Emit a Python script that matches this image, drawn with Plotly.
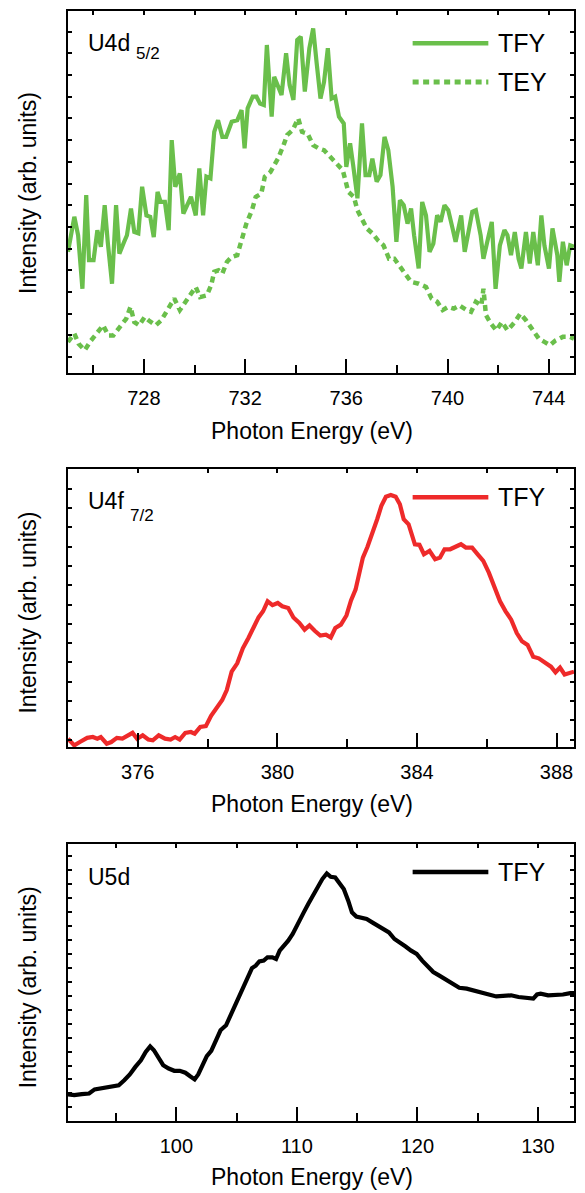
import plotly.graph_objects as go

# ---------------- data: U4d5/2 edge ----------------
u4d_tfy_energy = [725.00, 725.25, 725.40, 725.57, 725.72, 725.83, 726.01, 726.16, 726.30, 726.45,
                  726.57, 726.74, 726.90, 727.03, 727.22, 727.33, 727.49, 727.62, 727.78, 727.93,
                  728.10, 728.25, 728.39, 728.54, 728.66, 728.83, 728.98, 729.10, 729.24, 729.42,
                  729.56, 729.71, 729.86, 730.05, 730.19, 730.34, 730.47, 730.63, 730.78, 730.93,
                  731.10, 731.25, 731.47, 731.69, 731.86, 731.98, 732.10, 732.30, 732.45, 732.59,
                  732.74, 732.86, 733.05, 733.15, 733.30, 733.44, 733.62, 733.76, 733.91, 734.06,
                  734.20, 734.36, 734.54, 734.69, 734.83, 734.98, 735.12, 735.27, 735.42, 735.56,
                  735.71, 735.90, 736.00, 736.15, 736.27, 736.44, 736.62, 736.76, 736.91, 737.03,
                  737.20, 737.35, 737.51, 737.66, 737.83, 737.98, 738.12, 738.27, 738.42, 738.56,
                  738.68, 738.86, 739.00, 739.15, 739.29, 739.44, 739.59, 739.73, 739.88, 740.03,
                  740.20, 740.32, 740.54, 740.68, 740.83, 740.98, 741.12, 741.31, 741.42, 741.56,
                  741.75, 741.90, 742.07, 742.25, 742.37, 742.51, 742.66, 742.81, 742.92, 743.10,
                  743.25, 743.39, 743.57, 743.71, 743.83, 744.01, 744.15, 744.34, 744.42, 744.56,
                  744.71, 744.85, 745.00]
u4d_tfy_intensity = [0.334, 0.431, 0.380, 0.232, 0.491, 0.311, 0.311, 0.394, 0.348, 0.463,
                     0.362, 0.246, 0.463, 0.329, 0.362, 0.380, 0.454, 0.389, 0.385, 0.514,
                     0.435, 0.431, 0.375, 0.500, 0.472, 0.472, 0.394, 0.643, 0.514, 0.551,
                     0.440, 0.463, 0.486, 0.435, 0.565, 0.435, 0.542, 0.537, 0.666, 0.698,
                     0.652, 0.652, 0.694, 0.698, 0.726, 0.620, 0.731, 0.763, 0.763, 0.744,
                     0.740, 0.906, 0.708, 0.818, 0.795, 0.768, 0.883, 0.795, 0.754, 0.920,
                     0.929, 0.777, 0.897, 0.952, 0.855, 0.758, 0.804, 0.897, 0.758, 0.763,
                     0.708, 0.689, 0.569, 0.634, 0.574, 0.482, 0.689, 0.546, 0.546, 0.592,
                     0.528, 0.546, 0.652, 0.615, 0.514, 0.362, 0.477, 0.463, 0.412, 0.454,
                     0.380, 0.288, 0.472, 0.435, 0.334, 0.357, 0.435, 0.417, 0.463, 0.449,
                     0.399, 0.362, 0.435, 0.334, 0.389, 0.445, 0.449, 0.380, 0.315, 0.362,
                     0.417, 0.232, 0.352, 0.394, 0.380, 0.325, 0.389, 0.315, 0.288, 0.389,
                     0.302, 0.389, 0.297, 0.435, 0.352, 0.288, 0.399, 0.325, 0.251, 0.362,
                     0.297, 0.352, 0.348]

u4d_tey_energy = [725.00, 725.25, 725.42, 725.66, 725.91, 726.16, 726.39, 726.59, 726.79, 727.00,
                  727.30, 727.47, 727.62, 727.81, 728.03, 728.18, 728.47, 728.69, 728.91, 729.20,
                  729.42, 729.64, 729.86, 730.05, 730.22, 730.49, 730.66, 730.78, 730.95, 731.10,
                  731.28, 731.47, 731.69, 731.91, 732.05, 732.27, 732.42, 732.64, 732.78, 733.00,
                  733.30, 733.52, 733.66, 733.88, 734.10, 734.25, 734.47, 734.69, 734.91, 735.12,
                  735.42, 735.64, 735.86, 736.08, 736.30, 736.44, 736.59, 736.81, 737.03, 737.25,
                  737.47, 737.69, 737.90, 738.12, 738.34, 738.56, 738.86, 739.15, 739.37, 739.59,
                  739.81, 740.03, 740.25, 740.47, 740.76, 740.93, 741.12, 741.34, 741.42, 741.52,
                  741.71, 741.93, 742.15, 742.37, 742.66, 742.88, 743.10, 743.39, 743.61, 743.83,
                  744.05, 744.27, 744.56, 744.85, 745.00]
u4d_tey_intensity = [0.085, 0.108, 0.080, 0.062, 0.089, 0.113, 0.131, 0.103, 0.103, 0.122,
                     0.149, 0.182, 0.140, 0.131, 0.154, 0.145, 0.131, 0.145, 0.173, 0.205,
                     0.173, 0.196, 0.214, 0.237, 0.209, 0.214, 0.242, 0.279, 0.283, 0.274,
                     0.306, 0.320, 0.325, 0.380, 0.412, 0.449, 0.486, 0.495, 0.542, 0.555,
                     0.592, 0.629, 0.657, 0.671, 0.703, 0.666, 0.661, 0.629, 0.620, 0.615,
                     0.592, 0.574, 0.560, 0.500, 0.486, 0.449, 0.431, 0.399, 0.385, 0.366,
                     0.352, 0.315, 0.315, 0.292, 0.274, 0.251, 0.246, 0.237, 0.205, 0.196,
                     0.173, 0.182, 0.177, 0.186, 0.173, 0.168, 0.196, 0.186, 0.232, 0.159,
                     0.136, 0.117, 0.140, 0.117, 0.140, 0.163, 0.145, 0.117, 0.094, 0.085,
                     0.076, 0.089, 0.099, 0.099, 0.094]

# ---------------- data: U4f7/2 edge ----------------
u4f_energy = [374.00, 374.18, 374.34, 374.55, 374.71, 374.84, 374.94, 375.11, 375.24, 375.40,
              375.56, 375.72, 375.85, 375.98, 376.14, 376.30, 376.43, 376.60, 376.78, 376.94,
              377.07, 377.20, 377.36, 377.52, 377.63, 377.79, 377.95, 378.10, 378.26, 378.42,
              378.55, 378.69, 378.85, 379.01, 379.17, 379.32, 379.46, 379.59, 379.72, 379.86,
              380.01, 380.14, 380.31, 380.46, 380.63, 380.78, 380.92, 381.07, 381.23, 381.39,
              381.53, 381.66, 381.82, 381.98, 382.11, 382.24, 382.35, 382.45, 382.58, 382.72,
              382.86, 382.98, 383.11, 383.25, 383.39, 383.51, 383.62, 383.76, 383.83, 383.94,
              384.07, 384.20, 384.36, 384.52, 384.66, 384.79, 384.95, 385.11, 385.26, 385.40,
              385.58, 385.74, 385.90, 386.06, 386.22, 386.38, 386.54, 386.70, 386.86, 387.01,
              387.17, 387.33, 387.49, 387.65, 387.84, 387.97, 388.10, 388.23, 388.39, 388.50]
u4f_intensity = [0.030, 0.006, 0.018, 0.033, 0.036, 0.030, 0.036, 0.012, 0.018, 0.033,
                 0.030, 0.042, 0.051, 0.030, 0.042, 0.027, 0.024, 0.042, 0.030, 0.027,
                 0.036, 0.027, 0.051, 0.054, 0.048, 0.072, 0.075, 0.112, 0.139, 0.169,
                 0.205, 0.271, 0.301, 0.355, 0.392, 0.434, 0.466, 0.488, 0.524, 0.510,
                 0.518, 0.506, 0.500, 0.466, 0.446, 0.422, 0.437, 0.418, 0.401, 0.404,
                 0.394, 0.428, 0.440, 0.473, 0.527, 0.566, 0.633, 0.681, 0.719, 0.765,
                 0.819, 0.867, 0.900, 0.906, 0.900, 0.873, 0.819, 0.801, 0.771, 0.729,
                 0.727, 0.693, 0.705, 0.675, 0.681, 0.711, 0.711, 0.719, 0.729, 0.717,
                 0.717, 0.693, 0.669, 0.627, 0.572, 0.524, 0.488, 0.458, 0.410, 0.380,
                 0.367, 0.325, 0.319, 0.307, 0.289, 0.269, 0.286, 0.261, 0.265, 0.271]

# ---------------- data: U5d edge ----------------
u5d_energy = [91.00, 91.52, 92.14, 92.75, 93.21, 93.67, 94.29, 94.75, 95.21, 95.67,
              96.13, 96.59, 97.05, 97.45, 97.82, 98.13, 98.53, 98.90, 99.36, 99.82,
              100.28, 100.74, 101.11, 101.51, 101.81, 102.21, 102.52, 102.89, 103.26, 103.66,
              104.12, 104.43, 104.79, 105.19, 105.59, 105.90, 106.27, 106.58, 106.88, 107.25,
              107.56, 107.96, 108.27, 108.57, 108.88, 109.28, 109.65, 109.96, 110.26, 110.57,
              110.94, 111.34, 111.74, 112.11, 112.48, 112.81, 113.18, 113.49, 113.89, 114.26,
              114.57, 114.93, 115.33, 115.79, 116.25, 116.72, 117.18, 117.64, 118.10, 118.56,
              119.02, 119.48, 119.94, 120.40, 120.86, 121.32, 121.79, 122.25, 122.86, 123.48,
              124.09, 124.70, 125.32, 125.93, 126.55, 127.16, 127.78, 128.39, 129.01, 129.62,
              129.93, 130.23, 130.85, 131.46, 132.08, 132.69, 133.00]
u5d_intensity = [0.096, 0.093, 0.097, 0.099, 0.114, 0.117, 0.121, 0.123, 0.129, 0.147,
                 0.168, 0.195, 0.219, 0.249, 0.269, 0.255, 0.225, 0.201, 0.189, 0.181,
                 0.181, 0.174, 0.162, 0.150, 0.168, 0.201, 0.234, 0.253, 0.291, 0.327,
                 0.345, 0.375, 0.411, 0.453, 0.483, 0.513, 0.551, 0.560, 0.575, 0.578,
                 0.590, 0.590, 0.584, 0.614, 0.629, 0.650, 0.674, 0.698, 0.728, 0.752,
                 0.782, 0.814, 0.850, 0.872, 0.892, 0.880, 0.878, 0.860, 0.836, 0.794,
                 0.752, 0.737, 0.732, 0.728, 0.716, 0.704, 0.689, 0.680, 0.656, 0.644,
                 0.629, 0.614, 0.602, 0.578, 0.560, 0.537, 0.525, 0.513, 0.495, 0.480,
                 0.477, 0.471, 0.465, 0.456, 0.449, 0.450, 0.453, 0.447, 0.444, 0.441,
                 0.456, 0.459, 0.453, 0.453, 0.456, 0.461, 0.461]

panel_labels = ["U4d", "U4f", "U5d"]
panel_subscripts = ["5/2", "7/2", ""]
x_title = "Photon Energy (eV)"
y_title = "Intensity (arb. units)"

GREEN = "#6abf4b"
RED = "#ee2a2a"
BLACK = "#000000"
FONT = "Liberation Sans, Arial, Helvetica, sans-serif"

fig = go.Figure()

fig.add_trace(go.Scatter(x=u4d_tfy_energy, y=u4d_tfy_intensity, mode="lines",
                         line=dict(color=GREEN, width=4.2), xaxis="x", yaxis="y", name="TFY"))
fig.add_trace(go.Scatter(x=u4d_tey_energy, y=u4d_tey_intensity, mode="lines",
                         line=dict(color=GREEN, width=4.5, dash="6px,4.5px"), xaxis="x", yaxis="y", name="TEY"))
fig.add_trace(go.Scatter(x=u4f_energy, y=u4f_intensity, mode="lines",
                         line=dict(color=RED, width=4.2), xaxis="x2", yaxis="y2", name="TFY"))
fig.add_trace(go.Scatter(x=u5d_energy, y=u5d_intensity, mode="lines",
                         line=dict(color=BLACK, width=4.2), xaxis="x3", yaxis="y3", name="TFY"))
# empty traces to host the top (mirror) tick axes
for xa, ya in [("x4", "y"), ("x5", "y2"), ("x6", "y3")]:
    fig.add_trace(go.Scatter(x=[], y=[], xaxis=xa, yaxis=ya, showlegend=False, hoverinfo="skip"))

W, H = 585, 1193
ML, MR, MT, MB = 68, 9, 10, 72
OFF = 0  # page body margin removed by post_script
plot_h = H - MT - MB  # 1111
plot_w = W - ML - MR  # 508


def py(px):  # page pixel -> paper y
    return (H - MB - (px - OFF)) / plot_h


def pxx(px):  # page pixel -> paper x
    return (px - OFF - ML) / plot_w


domains = [[py(372), py(10)], [py(746.7), py(468.3)], [0.0, py(843.3)]]
xranges = [[725, 745], [374, 388.5], [91, 133]]
xmajor = [4, 4, 10]
xminor = [2, 2, 5]
ytick0 = [0.043, 0.027, 0.049]
ydtick = [0.06, 0.0693, 0.0503]

layout = dict(
    width=W, height=H,
    margin=dict(l=ML, r=MR, t=MT, b=MB),
    paper_bgcolor="white", plot_bgcolor="white",
    showlegend=False,
    font=dict(family=FONT, size=20, color="black"),
)

for i in range(3):
    xn = "xaxis" if i == 0 else f"xaxis{i + 1}"
    yn = "yaxis" if i == 0 else f"yaxis{i + 1}"
    yid = "y" if i == 0 else f"y{i + 1}"
    xid = "x" if i == 0 else f"x{i + 1}"
    layout[xn] = dict(
        domain=[0, 1], anchor=yid, range=xranges[i],
        showline=True, linecolor="black", linewidth=2, mirror=True,
        ticks="inside", ticklen=14, tickwidth=2, tickcolor="black",
        dtick=xmajor[i], tick0=0, showgrid=False, zeroline=False,
        tickfont=dict(size=20, family=FONT), ticklabelstandoff=6,
        minor=dict(ticks="inside", ticklen=8, tickwidth=2, tickcolor="black", dtick=xminor[i], tick0=0,
                   showgrid=False),
    )
    layout[yn] = dict(
        domain=domains[i], anchor=xid, range=[0, 1],
        showline=True, linecolor="black", linewidth=2, mirror="ticks",
        ticks="inside", ticklen=4, tickwidth=1.5, tickcolor="black",
        tick0=ytick0[i], dtick=ydtick[i], showticklabels=False,
        showgrid=False, zeroline=False,
    )
    # top mirror ticks (short)
    layout[f"xaxis{i + 4}"] = dict(
        overlaying=xid, side="top", anchor=yid, range=xranges[i],
        showline=False, ticks="inside", ticklen=4, tickwidth=1.5, tickcolor="black",
        dtick=xminor[i], tick0=0, showticklabels=False, showgrid=False, zeroline=False,
    )

fig.update_layout(**layout)

annotations = []
shapes = []

# axis titles
x_title_y = [430, 804, 1177]
y_title_y = [192, 612, 987]
for i in range(3):
    annotations.append(dict(text=x_title, xref="paper", yref="paper", x=pxx(313), y=py(x_title_y[i]),
                            xanchor="center", yanchor="middle", showarrow=False,
                            font=dict(size=23, family=FONT)))
    annotations.append(dict(text=y_title, xref="paper", yref="paper", x=pxx(28), y=py(y_title_y[i]),
                            xanchor="center", yanchor="middle", textangle=-90, showarrow=False,
                            font=dict(size=23, family=FONT)))

# panel labels
label_y = [42, 500, 877]
sub_y = [53, 515, 0]
sub_x = [134, 128, 0]
for i in range(3):
    annotations.append(dict(text=panel_labels[i], xref="paper", yref="paper", x=pxx(86), y=py(label_y[i]),
                            xanchor="left", yanchor="middle", showarrow=False,
                            font=dict(size=23, family=FONT)))
    if panel_subscripts[i]:
        annotations.append(dict(text=panel_subscripts[i], xref="paper", yref="paper", x=pxx(sub_x[i]),
                                y=py(sub_y[i]), xanchor="left", yanchor="middle", showarrow=False,
                                font=dict(size=17, family=FONT)))

# legends (drawn)
legend_entries = [("TFY", GREEN, 42.3, None), ("TEY", GREEN, 81, "dot"),
                  ("TFY", RED, 496.7, None), ("TFY", BLACK, 871.7, None)]
for name, col, ypx, dash in legend_entries:
    shapes.append(dict(type="line", xref="paper", yref="paper",
                       x0=pxx(414), x1=pxx(490), y0=py(ypx), y1=py(ypx),
                       line=dict(color=col, width=5 if dash else 4.5, dash="6px,4.5px" if dash else "solid")))
    annotations.append(dict(text=name, xref="paper", yref="paper", x=pxx(498), y=py(ypx),
                            xanchor="left", yanchor="middle", showarrow=False,
                            font=dict(size=25, family=FONT)))

fig.update_layout(annotations=annotations, shapes=shapes)
fig.write_html("out.html",
               config={"displayModeBar": False},
               post_script="document.body.style.margin='0';document.body.style.overflow='hidden';")
